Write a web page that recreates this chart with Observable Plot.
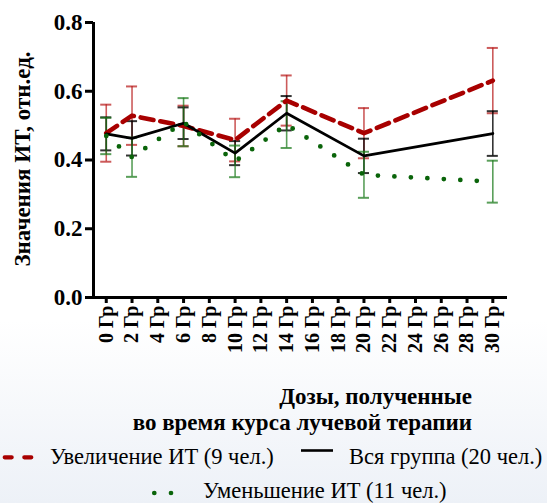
<!DOCTYPE html>
<html>
<head>
<meta charset="utf-8">
<script src="https://cdn.jsdelivr.net/npm/d3@7"></script>
<script src="https://cdn.jsdelivr.net/npm/@observablehq/plot@0.6"></script>
<style>
  html, body { margin: 0; padding: 0; }
  body {
    width: 547px; height: 503px; overflow: hidden;
    background: linear-gradient(to bottom, #ffffff 0px, #ffffff 320px, #edf1f7 503px);
  }
  #wrap { position: relative; width: 547px; height: 503px; font-family: 'Liberation Serif'; }
  #chart { position: absolute; left: 0; top: 0; }
  .t { position: absolute; white-space: nowrap; line-height: 26px; color: #000; font-family: 'Liberation Serif'; }
  .title { font-weight: bold; font-size: 23px; right: 75px; text-align: right; }
  .leg { font-size: 22.5px; }
  .sw { position: absolute; left: 0; top: 0; }
</style>
</head>
<body>
<div id="wrap">
  <div id="chart"></div>
  <div class="t title" style="top:384px;">Дозы, полученные</div>
  <div class="t title" style="top:410px;">во время курса лучевой терапии</div>

  <svg class="sw" width="547" height="503" style="pointer-events:none">
    <line x1="4.7" y1="457.3" x2="32.3" y2="457.3" stroke="#a80000" stroke-width="4.2" stroke-dasharray="7 12.6" stroke-linecap="round"/>
    <line x1="301" y1="450.5" x2="333" y2="450.5" stroke="#000" stroke-width="2.6"/>
    <line x1="154.3" y1="493" x2="172" y2="493" stroke="#0a640a" stroke-width="4.7" stroke-dasharray="0 16.7" stroke-linecap="round"/>
  </svg>
  <div class="t leg" style="left:50px;top:444px;">Увеличение ИТ (9 чел.)</div>
  <div class="t leg" style="left:349px;top:444px;">Вся группа (20 чел.)</div>
  <div class="t leg" style="left:203px;top:478px;">Уменьшение ИТ (11 чел.)</div>
</div>
<script>
// Doses at which measurements were taken (Гр)
const doses = [0, 2, 6, 10, 14, 20, 30];
// Increase group (9 people)
const incMean = [0.478, 0.529, 0.499, 0.458, 0.573, 0.478, 0.631];
const incErr  = [0.083, 0.085, 0.059, 0.062, 0.073, 0.073, 0.095];
// Whole group (20 people)
const allMean = [0.476, 0.463, 0.507, 0.420, 0.536, 0.412, 0.477];
const allErr  = [0.048, 0.050, 0.046, 0.035, 0.050, 0.050, 0.065];
// Decrease group (11 people)
const decMean = [0.470, 0.408, 0.510, 0.396, 0.503, 0.357, 0.337];
const decErr  = [0.053, 0.057, 0.070, 0.046, 0.068, 0.067, 0.061];
// Axis ticks
const xTicks = [0, 2, 4, 6, 8, 10, 12, 14, 16, 18, 20, 22, 24, 26, 28, 30];
const yTicks = [0, 0.2, 0.4, 0.6, 0.8];
const xUnit = " Гр";
const yLabel = "Значения ИТ, отн.ед.";

const mk = (mean, err) => doses.map((d, i) => ({dose: d, mean: mean[i], lo: mean[i] - err[i], hi: mean[i] + err[i]}));
const inc = mk(incMean, incErr);
const all = mk(allMean, allErr);
const dec = mk(decMean, decErr);

const capW = 0.43;
const errMarks = (data, color, opacity) => [
  Plot.ruleX(data, {x: "dose", y1: "lo", y2: "hi", stroke: color, strokeWidth: 1.6, strokeOpacity: opacity}),
  Plot.ruleY(data, {y: "hi", x1: d => d.dose - capW, x2: d => d.dose + capW, stroke: color, strokeWidth: 2, strokeOpacity: opacity}),
  Plot.ruleY(data, {y: "lo", x1: d => d.dose - capW, x2: d => d.dose + capW, stroke: color, strokeWidth: 2, strokeOpacity: opacity})
];

const RED = "#a80000", GREEN = "#0a640a";
const xMin = -0.99, xMax = 31.14;
const FF = "Liberation Serif";

const chart = Plot.plot({
  width: 547,
  height: 375,
  marginLeft: 93,
  marginRight: 40,
  marginTop: 22,
  marginBottom: 78,
  style: {fontFamily: FF, background: "transparent", overflow: "visible"},
  x: {domain: [xMin, xMax]},
  y: {domain: [0, 0.8]},
  marks: [
    ...errMarks(inc, "#b81c1c", 0.72),
    ...errMarks(all, "#000000", 0.8),
    ...errMarks(dec, "#1a7a1a", 0.72),
    Plot.line(inc, {x: "dose", y: "mean", stroke: RED, strokeWidth: 4.6, strokeDasharray: "13 7"}),
    Plot.line(all, {x: "dose", y: "mean", stroke: "#000", strokeWidth: 2.8}),
    Plot.line(dec, {x: "dose", y: "mean", stroke: GREEN, strokeWidth: 4.8, strokeDasharray: "0 16.5", strokeLinecap: "round"}),
    Plot.axisY({ticks: yTicks, tickFormat: d3.format(".1f"), tickSize: 8, tickPadding: 3, fontSize: 23, fontWeight: "bold", fontFamily: FF, strokeWidth: 3, label: null}),
    Plot.axisX({ticks: xTicks, tickFormat: d => d + xUnit, tickSize: 6, tickPadding: 2, tickRotate: -90, fontSize: 20, fontWeight: "bold", fontFamily: FF, strokeWidth: 3, label: null}),
    Plot.ruleX([xMin], {y1: 0, y2: 0.8, strokeWidth: 3}),
    Plot.ruleY([0], {x1: xMin, x2: xMax, strokeWidth: 3}),
    Plot.text([yLabel], {frameAnchor: "left", textAnchor: "middle", rotate: -90, dx: -71, dy: -1, fontSize: 23, fontWeight: "bold", fontFamily: FF, fill: "#000"})
  ]
});
document.getElementById("chart").appendChild(chart);
</script>
</body>
</html>
